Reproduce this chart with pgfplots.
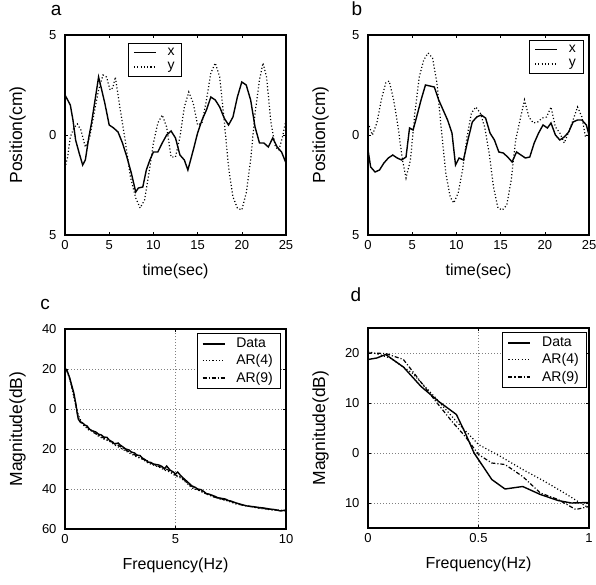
\documentclass[border=0pt]{standalone}
\usepackage{pgfplots}
\pgfplotsset{compat=1.18}
\usepackage{fontspec}
\setmainfont{Liberation Sans}
\pgfplotsset{
  myax/.style={
    scale only axis, width=221pt, height=200pt,
    anchor=south west,
    axis line style={line width=1.1pt},
    tick align=inside, major tick length=3pt,
    tick style={line width=0.6pt, black},
    ticklabel style={font=\fontsize{13}{13}\selectfont},
    /pgf/number format/assume math mode=true,
    xticklabel shift=2pt, yticklabel shift=5pt,
    xlabel style={font=\fontsize{16}{16}\selectfont, at={(axis description cs:0.5,-0.18)}, anchor=center},
    ylabel style={font=\fontsize{17.5}{17.5}\selectfont, at={(axis description cs:-0.215,0.5)}, anchor=center},
    title style={font=\fontsize{19}{19}\selectfont, anchor=base},
    legend style={font=\fontsize{14}{15}\selectfont, draw=black,
      fill=white, inner xsep=5pt, inner ysep=3pt, row sep=1.5pt,
      /tikz/every odd column/.append style={column sep=9pt}},
    legend cell align=left,
    legend image code/.code={\draw[#1] (0pt,0pt) -- (22pt,0pt);},
    legend image post style={line width=1.5pt},
  },
  sol/.style={black, line width=1.4pt},
  dots/.style={black, line width=1.2pt, dash pattern=on 1.1pt off 2.2pt},
  ddot/.style={black, line width=1.2pt, dash pattern=on 4pt off 2pt on 1.1pt off 2pt},
  grd/.style={grid=major, major grid style={gray, line width=0.6pt, dash pattern=on 1pt off 2pt}},
}
\begin{document}
\begin{tikzpicture}
\useasboundingbox (0,0) rectangle (596pt,584pt);
% ---------- panel a ----------
\begin{axis}[myax, at={(65pt,349pt)},
  xmin=0, xmax=25, ymin=-5, ymax=5,
  xtick={0,5,10,15,20,25}, ytick={-5,0,5}, yticklabels={5,0,5},
  xlabel={time(sec)}, ylabel={Position(cm)},
  title={a}, title style={at={(axis description cs:-0.04,1.065)}},
  legend style={at={(0.285,0.96)}, anchor=north west}]
\addplot[sol] coordinates {
(0,2.0)(0.3,1.75)(0.6,1.5)(0.9,0.75)(1.2,-0.25)(1.6,-0.9)(2.0,-1.5)(2.3,-1.25)(2.7,-0.1)(3.0,0.6)
(3.4,1.75)(3.8,2.9)(4.1,2.35)(4.5,1.6)(5.0,0.5)(5.5,0.35)(6.0,0.15)(6.5,-0.4)(7.0,-1.1)(7.5,-1.9)
(8.0,-2.85)(8.3,-2.65)(8.8,-2.6)(9.2,-1.75)(9.6,-1.25)(10,-0.85)(10.5,-0.85)(11,-0.4)(11.5,0)(12,0.2)
(12.5,-0.15)(13,-1.0)(13.5,-1.25)(13.9,-1.75)(14.3,-1.1)(14.6,-0.6)(15,0.1)(15.5,0.75)(16,1.25)(16.5,1.9)
(17,1.75)(17.5,1.4)(18,0.85)(18.5,0.5)(19,0.9)(19.5,1.9)(20,2.65)(20.5,2.5)(21,1.75)(21.5,0.4)
(22,-0.4)(22.5,-0.4)(23,-0.6)(23.5,-0.15)(24,-0.6)(24.5,-0.85)(25,-1.4)};
\addlegendentry{x}
\addplot[dots] coordinates {
(0,-1.65)(0.3,-1.1)(0.6,-0.1)(1.0,0.35)(1.4,0.55)(1.8,0.25)(2.3,-0.6)(2.8,-0.1)(3.3,1.1)(3.8,2.25)
(4.3,3.0)(4.7,2.9)(5.1,2.25)(5.4,2.35)(5.7,2.9)(6.2,1.4)(6.8,-0.25)(7.4,-2.1)(8.0,-3.15)(8.5,-3.65)
(9.0,-3.25)(9.5,-1.9)(10,-0.4)(10.5,0.6)(11,1.0)(11.5,0.4)(12,-1.1)(12.5,-1.1)(13,-0.1)(13.5,1.4)
(14,2.15)(14.5,1.6)(15,0.5)(15.5,0.6)(16,1.75)(16.5,3.1)(17,3.6)(17.5,2.9)(18,0.75)(18.5,-1.6)
(19,-3.1)(19.5,-3.65)(20,-3.75)(20.5,-2.9)(21,-1.25)(21.5,1.1)(22,2.75)(22.4,3.6)(22.8,2.9)(23.3,0.6)
(23.8,-0.6)(24.2,-0.75)(24.6,-0.1)(25,0.75)};
\addlegendentry{y}
\end{axis}
% ---------- panel b ----------
\begin{axis}[myax, at={(368pt,349pt)},
  xmin=0, xmax=25, ymin=-5, ymax=5,
  xtick={0,5,10,15,20,25}, ytick={-5,0,5}, yticklabels={5,0,5},
  xlabel={time(sec)}, ylabel={Position(cm)},
  title={b}, title style={at={(axis description cs:-0.05,1.065)}},
  legend style={at={(0.973,0.975)}, anchor=north east}]
\addplot[sol] coordinates {
(0,-0.75)(0.3,-1.6)(0.8,-1.85)(1.3,-1.75)(1.8,-1.4)(2.3,-1.15)(2.8,-1.0)(3.3,-1.15)(3.8,-1.25)(4.3,-1.1)
(4.7,0.35)(5.1,0.25)(5.5,0.9)(6.0,1.75)(6.5,2.5)(7.0,2.45)(7.5,2.4)(8.0,1.75)(8.5,1.25)(9.0,0.75)
(9.5,0.1)(9.9,-1.5)(10.3,-1.15)(10.8,-1.25)(11.3,-0.25)(11.8,0.65)(12.3,0.9)(12.8,1.0)(13.3,0.85)(13.8,0.1)
(14.3,-0.25)(14.8,-0.85)(15.3,-0.9)(15.8,-1.1)(16.3,-1.35)(16.8,-0.85)(17.3,-1.0)(17.8,-1.15)(18.3,-1.1)(18.8,-0.4)
(19.3,0.1)(19.8,0.5)(20.3,0.35)(20.7,0.6)(21.2,0)(21.7,-0.25)(22.2,-0.1)(22.7,0.15)(23.2,0.65)(23.7,0.75)
(24.2,0.75)(24.7,0.5)(25,0)};
\addlegendentry{x}
\addplot[dots] coordinates {
(0,0.6)(0.5,0)(1.0,0.6)(1.5,1.75)(2.0,2.6)(2.4,2.7)(2.9,1.75)(3.4,0.4)(3.9,-1.25)(4.3,-2.15)
(4.8,-1.25)(5.3,1.1)(5.8,2.9)(6.3,3.75)(6.8,4.1)(7.3,3.85)(7.8,2.6)(8.3,0.25)(8.8,-1.9)(9.3,-3.1)
(9.7,-3.4)(10.2,-2.9)(10.7,-1.75)(11.2,-0.1)(11.7,1.1)(12.2,1.4)(12.7,1.1)(13.2,0.4)(13.7,-0.9)(14.2,-2.6)
(14.7,-3.65)(15.2,-3.75)(15.7,-3.5)(16.2,-2.25)(16.7,-0.25)(17.2,0.75)(17.7,1.75)(18.2,0.9)(18.7,0.6)(19.2,0.65)
(19.7,0.85)(20.2,0.9)(20.7,1.4)(21.2,0.4)(21.7,0.1)(22.2,-0.4)(22.7,0.15)(23.2,0.75)(23.7,1.4)(24.2,0.9)
(24.6,-0.1)(25,0.1)};
\addlegendentry{y}
\end{axis}
% ---------- panel c ----------
\begin{axis}[myax, grd, at={(65pt,55pt)},
  xmin=0, xmax=10, ymin=-60, ymax=40,
  xtick={0,5,10}, ytick={-60,-40,-20,0,20,40}, yticklabels={60,40,20,0,20,40},
  xlabel={Frequency(Hz)}, ylabel={Magnitude(dB)},
  title={c}, title style={at={(axis description cs:-0.09,1.07)}},
  legend style={at={(0.973,0.98)}, anchor=north east}]
\addplot[sol] coordinates {
(0,20.5)(0.1,19)(0.2,16)(0.3,12)(0.4,8)(0.5,2)(0.55,-2)(0.6,-5)(0.7,-6.7)(0.8,-7)(0.9,-8)(1.0,-8.5)
(1.1,-10)(1.25,-11)(1.4,-11.5)(1.5,-12.5)(1.65,-13)(1.75,-14)(1.9,-14.2)(2.0,-15.5)(2.15,-16.5)(2.25,-17.5)(2.4,-17)(2.5,-18)
(2.75,-20)(2.9,-20.5)(3.0,-21.5)(3.15,-22)(3.25,-23)(3.4,-23.3)(3.5,-24.5)(3.65,-25.5)(3.75,-26.5)(3.9,-26.8)(4.0,-27.5)(4.25,-28)
(4.4,-28.8)(4.5,-30)(4.6,-28.5)(4.75,-30.5)(4.9,-31.5)(5.0,-32.5)(5.1,-31.5)(5.25,-33.5)(5.4,-35)(5.5,-36)
(5.75,-38.5)(5.9,-39.2)(6.0,-40)(6.15,-40.3)(6.25,-41)(6.4,-42.3)(6.5,-42.5)(6.75,-43.5)(6.9,-44.3)(7.0,-44.5)(7.25,-45)(7.4,-45.8)(7.5,-46)
(7.75,-47)(8.0,-47.8)(8.25,-48.5)(8.5,-48.8)(8.75,-49.2)(9.0,-49.5)(9.25,-50)(9.5,-50.3)(9.75,-51)(10,-50.5)};
\addlegendentry{Data}
\addplot[dots] coordinates {
(0,20)(0.1,18.5)(0.2,15.5)(0.3,11)(0.4,6)(0.5,1)(0.6,-3)(0.7,-5.5)(0.8,-7.5)(0.9,-9)(1.0,-9.5)(1.1,-11)
(1.25,-10.5)(1.5,-13.5)(1.75,-15)(2.0,-16)(2.25,-18)(2.5,-19.5)(2.75,-21)(3.0,-22.5)(3.25,-24)(3.5,-25)
(3.75,-27)(4.0,-28)(4.25,-29)(4.5,-30.5)(4.75,-31.5)(5.0,-33.5)(5.25,-34.5)(5.5,-37)(5.75,-39.5)(6.0,-40.5)
(6.25,-41.5)(6.5,-43)(6.75,-44)(7,-45)(7.25,-45.5)(7.5,-46.5)(7.75,-47.5)(8,-48)(8.5,-49)(9,-50)(9.5,-50.5)(10,-51)};
\addlegendentry{AR(4)}
\addplot[ddot] coordinates {
(0,20.3)(0.1,18.8)(0.2,15.8)(0.3,11.5)(0.4,7)(0.5,1.5)(0.6,-4)(0.7,-6.2)(0.8,-7.2)(0.9,-8.5)(1.0,-9)
(1.25,-11.5)(1.5,-13)(1.75,-14.5)(2.0,-16)(2.25,-17)(2.5,-18.8)(2.75,-20.5)(3.0,-22)(3.25,-23.5)(3.5,-25)
(3.75,-26)(4.0,-27.8)(4.25,-28.8)(4.5,-29.5)(4.75,-31)(5.0,-33)(5.25,-34)(5.5,-36.5)(5.75,-39)(6.0,-40.2)
(6.25,-41.8)(6.5,-42.8)(6.75,-44)(7.0,-44.8)(7.25,-45.5)(7.5,-46.2)(7.75,-47.2)(8.0,-48)(8.5,-49)(9,-49.8)(9.5,-50.5)(10,-50.8)};
\addlegendentry{AR(9)}
\end{axis}
% ---------- panel d ----------
\begin{axis}[myax, grd, at={(368pt,56pt)},
  xmin=0, xmax=1, ymin=-15, ymax=25,
  xtick={0,0.5,1}, xticklabels={0,0.5,1}, ytick={-10,0,10,20}, yticklabels={10,0,10,20},
  xlabel={Frequency(Hz)}, ylabel={Magnitude(dB)},
  title={d}, title style={at={(axis description cs:-0.055,1.10)}},
  legend style={at={(0.986,0.98)}, anchor=north east}]
\addplot[sol] coordinates {
(0,18.7)(0.04,19.0)(0.08,19.7)(0.16,17.2)(0.24,13.3)(0.32,10.3)(0.40,7.7)(0.44,4.0)(0.48,0)
(0.56,-5.3)(0.62,-7.2)(0.70,-6.7)(0.78,-8.3)(0.86,-9.5)(0.92,-10)(1.0,-9.9)};
\addlegendentry{Data}
\addplot[dots] coordinates {
(0,20.3)(0.05,19.7)(0.1,19.0)(0.2,16.0)(0.3,11.3)(0.4,6.3)(0.5,1.7)(0.6,-0.7)(0.7,-3.3)
(0.8,-5.7)(0.9,-8.3)(0.95,-9.7)(1.0,-11)};
\addlegendentry{AR(4)}
\addplot[ddot] coordinates {
(0,20)(0.08,19.9)(0.16,18.7)(0.22,15.3)(0.3,10.7)(0.38,6.3)(0.44,3.3)(0.5,-0.3)(0.56,-2)
(0.62,-2.3)(0.7,-4.7)(0.78,-8)(0.86,-9.3)(0.94,-11.3)(1.0,-10.7)};
\addlegendentry{AR(9)}
\end{axis}
\end{tikzpicture}
\end{document}
